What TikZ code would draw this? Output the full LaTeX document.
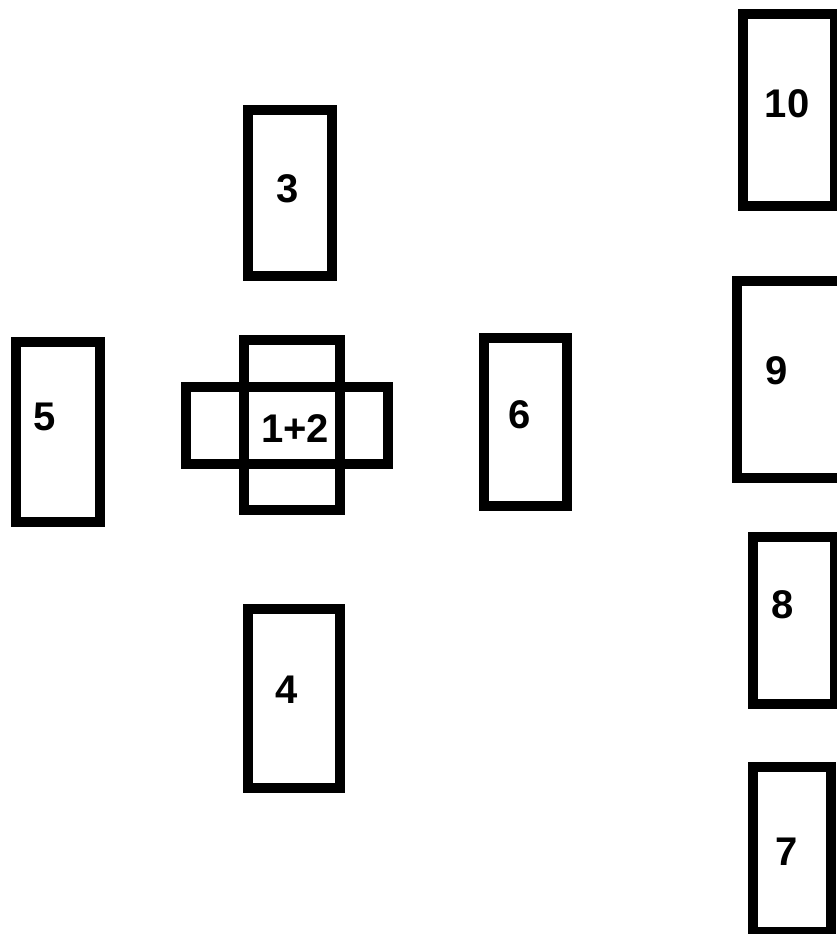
\documentclass[tikz,border=0pt]{standalone}
\usepackage{fontspec}
\setmainfont{Liberation Sans}
\begin{document}
\begin{tikzpicture}[x=1pt,y=-1pt,
  card/.style={draw=black,line width=10pt,rectangle,inner sep=0pt,outer sep=0pt,fill=none},
  num/.style={inner sep=0pt,font=\fontsize{40}{40}\selectfont\bfseries}]
\useasboundingbox (0,0) rectangle (837,934);
\clip (0,0) rectangle (837,934);
% cards
\node[card,minimum width=96pt,minimum height=170pt] (c1) at (292,425) {};
\node[card,minimum width=202pt,minimum height=77pt] (c2) at (287,425.5) {};
\node[card,minimum width=84pt,minimum height=166pt] (c3) at (290,193) {};
\node[card,minimum width=92pt,minimum height=179pt] (c4) at (294,698.5) {};
\node[card,minimum width=84pt,minimum height=180pt] (c5) at (58,432) {};
\node[card,minimum width=83pt,minimum height=168pt] (c6) at (525.5,422) {};
\node[card,minimum width=78pt,minimum height=165pt] (c7) at (792,849.5) {};
\node[card,minimum width=82pt,minimum height=167pt] (c8) at (794,620.5) {};
\node[card,minimum width=113pt,minimum height=197pt] (c9) at (793.5,379.5) {};
\node[card,minimum width=92pt,minimum height=192pt] (c10) at (789,110) {};
% labels
\node[num] (l12) at (295,429) {1+2};
\node[num] (l3) at (288,189) {3};
\node[num] (l4) at (287,690) {4};
\node[num] (l5) at (45,417) {5};
\node[num] (l6) at (520,415) {6};
\node[num] (l7) at (787,852) {7};
\node[num] (l8) at (783,605) {8};
\node[num] (l9) at (777,371) {9};
\node[num] (l10) at (787,104) {10};
\end{tikzpicture}
\end{document}
